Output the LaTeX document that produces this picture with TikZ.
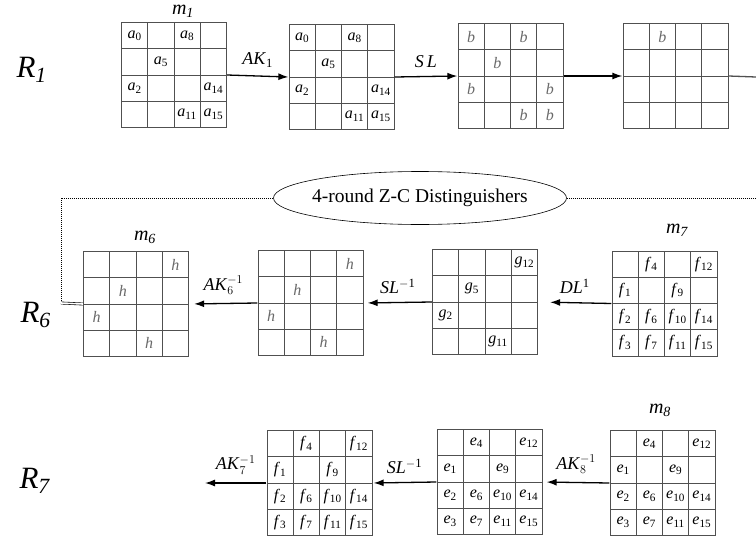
\documentclass[tikz,border=0pt]{standalone}
\usepackage{fontspec}
\setmainfont{Liberation Serif}
\usetikzlibrary{matrix,shapes.geometric,arrows.meta}
\definecolor{gridc}{RGB}{80,80,80}
\definecolor{faint}{RGB}{105,105,105}
\newcommand\ent[2]{\textit{#1}\textsubscript{#2}}
\tikzset{
  state/.style={matrix of nodes, nodes in empty cells, inner sep=0pt,
    column sep=-0.9pt, row sep=-0.9pt,
    nodes={draw=gridc, line width=0.9pt, minimum width=26.25pt, minimum height=26.25pt,
      inner sep=0pt, anchor=center, font=\fontsize{16}{16}\selectfont}},
  op/.style={-{Latex[length=10pt,width=7pt]}, line width=1.3pt},
  oplbl/.style={above=5pt, font=\fontsize{18}{18}\selectfont},
  rnd/.style={anchor=base west, font=\fontsize{31}{31}\selectfont\itshape},
  mname/.style={font=\fontsize{20}{20}\selectfont\itshape},
  pale/.style={text=faint, font=\fontsize{16}{16}\selectfont\itshape}
}
\begin{document}
\begin{tikzpicture}[x=1pt,y=-1pt]
\useasboundingbox (0,0) rectangle (756,541);
\node[rnd] (r1) at (13,77) {R\textsubscript{1}};
\node[rnd] (r6) at (17,322) {R\textsubscript{6}};
\node[rnd] (r7) at (16,488) {R\textsubscript{7}};

\node[mname] (m1name) at (183,11) {m\textsubscript{1}};
\node[mname] (m6name) at (145,237) {m\textsubscript{6}};
\node[mname] (m7name) at (677,230) {m\textsubscript{7}};
\node[mname] (m8name) at (660,410) {m\textsubscript{8}};

\matrix (m1) [state] at (174,75) {
\ent{a}{0} & & \ent{a}{8} & \\
 & \ent{a}{5} & & \\
\ent{a}{2} & & & \ent{a}{14} \\
 & & \ent{a}{11} & \ent{a}{15} \\
};
\matrix (ak1) [state] at (341.5,77) {
\ent{a}{0} & & \ent{a}{8} & \\
 & \ent{a}{5} & & \\
\ent{a}{2} & & & \ent{a}{14} \\
 & & \ent{a}{11} & \ent{a}{15} \\
};
\matrix (sl1) [state] at (510.5,76) {
|[pale]| b & & |[pale]| b & \\
 & |[pale]| b & & \\
|[pale]| b & & & |[pale]| b \\
 & & |[pale]| b & |[pale]| b \\
};
\matrix (dl1) [state] at (675.5,76) {
 & |[pale]| b & & \\
 & & & \\
 & & & \\
 & & & \\
};
\coordinate (r1end) at (756,77);
\draw[op] (m1.east) -- node[oplbl] (k1) {\textit{AK}\textsubscript{1}} (ak1.west);
\draw[op] (ak1.east) -- node[oplbl] (s1) {\textit{S\,L}} (sl1.west);
\draw[op] (sl1.east) -- (dl1.west);
\draw[gridc, line width=1.3pt] (dl1.east) -- (r1end);

\node[draw, ellipse, line width=0.6pt, inner sep=0pt, minimum width=293pt, minimum height=53pt,
  font=\fontsize{19.5}{19.5}\selectfont] (zc) at (420,198) {\makebox[0pt]{4-round Z-C Distinguishers}};
\coordinate (zcl) at (61,303);
\coordinate (zcr) at (756,198);
\draw[dash pattern=on 1pt off 1pt, line width=0.7pt] (zc.west) -| (zcl);
\draw[dash pattern=on 1pt off 1pt, line width=0.7pt] (zc.east) -- (zcr);

\matrix (m6) [state] at (136,304) {
 & & & |[pale]| h \\
 & |[pale]| h & & \\
|[pale]| h & & & \\
 & & |[pale]| h & \\
};
\matrix (sl6) [state] at (310.5,303) {
 & & & |[pale]| h \\
 & |[pale]| h & & \\
|[pale]| h & & & \\
 & & |[pale]| h & \\
};
\matrix (g6) [state] at (485,302) {
 & & & \ent{g}{12} \\
 & \ent{g}{5} & & \\
\ent{g}{2} & & & \\
 & & \ent{g}{11} & \\
};
\matrix (m7) [state] at (664.5,303.5) {
 & \ent{f}{4} & & \ent{f}{12} \\
\ent{f}{1} & & \ent{f}{9} & \\
\ent{f}{2} & \ent{f}{6} & \ent{f}{10} & \ent{f}{14} \\
\ent{f}{3} & \ent{f}{7} & \ent{f}{11} & \ent{f}{15} \\
};
\draw[line width=0.6pt, double distance=1.6pt] (zcl) -- (m6.west);
\draw[op, shorten >=12pt] (m7.west) -- node[oplbl] (d6) {\textit{DL}\textsuperscript{1}} (g6.east);
\draw[op, shorten >=4pt] (g6.west) -- node[oplbl] (s6) {\textit{SL}\textsuperscript{$-$1}} (sl6.east);
\draw[op, shorten >=5pt] (sl6.west) -- node[oplbl] (k6) {\textit{AK}$^{-1}_{6}$} (m6.east);

\matrix (f7) [state] at (319.5,483) {
 & \ent{f}{4} & & \ent{f}{12} \\
\ent{f}{1} & & \ent{f}{9} & \\
\ent{f}{2} & \ent{f}{6} & \ent{f}{10} & \ent{f}{14} \\
\ent{f}{3} & \ent{f}{7} & \ent{f}{11} & \ent{f}{15} \\
};
\matrix (e7) [state] at (489.5,482) {
 & \ent{e}{4} & & \ent{e}{12} \\
\ent{e}{1} & & \ent{e}{9} & \\
\ent{e}{2} & \ent{e}{6} & \ent{e}{10} & \ent{e}{14} \\
\ent{e}{3} & \ent{e}{7} & \ent{e}{11} & \ent{e}{15} \\
};
\matrix (m8) [state] at (662.5,483) {
 & \ent{e}{4} & & \ent{e}{12} \\
\ent{e}{1} & & \ent{e}{9} & \\
\ent{e}{2} & \ent{e}{6} & \ent{e}{10} & \ent{e}{14} \\
\ent{e}{3} & \ent{e}{7} & \ent{e}{11} & \ent{e}{15} \\
};
\coordinate (r7out) at (205,483);
\draw[op, shorten >=4pt] (m8.west) -- node[oplbl] (k8) {\textit{AK}$^{-1}_{8}$} (e7.east);
\draw[op, shorten >=1pt] (e7.west) -- node[oplbl] (s7) {\textit{SL}\textsuperscript{$-$1}} (f7.east);
\draw[op] (f7.west) -- node[oplbl] (k7) {\textit{AK}$^{-1}_{7}$} (r7out);
\end{tikzpicture}
\end{document}
